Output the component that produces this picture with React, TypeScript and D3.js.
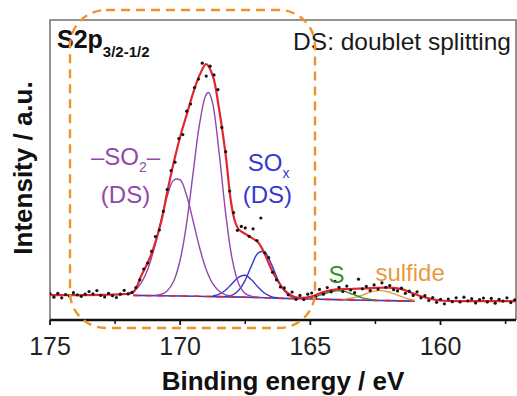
import React from 'react';
import * as d3 from 'd3';

const W = 517;
const H = 396;
const plot = { left: 50, right: 516, top: 20, bottom: 320 };

// axis
const xTicks = [175, 170, 165, 160];
const xMinorTicks = [172.5, 167.5, 162.5, 157.5];

// measured points (black dots), 0.15 eV apart starting at 175 eV
const scanStart = 175;
const scanStep = 0.15;
const counts = [
  8.8, 7.6, 8.9, 7.4, 8.5, 8.0, 9.1, 8.4, 7.9, 8.6,
  9.5, 8.7, 9.8, 8.2, 7.7, 8.9, 8.1, 7.5, 8.6, 9.9,
  8.7, 9.2, 10.8, 13.4, 17.0, 19.0, 22.9, 27.8, 30.0, 36.2,
  43.5, 49.8, 52.6, 60.5, 61.8, 69.6, 72.0, 77.5, 80.3, 85.6,
  81.3, 84.6, 81.7, 76.8, 64.2, 56.1, 43.0, 35.8, 29.9, 31.2,
  30.7, 27.9, 30.4, 26.5, 34.0, 22.4, 20.8, 15.9, 13.4, 11.0,
  10.7, 8.4, 9.3, 6.9, 8.2, 6.8, 8.6, 9.0, 7.7, 10.2,
  8.6, 10.8, 9.4, 12.9, 10.9, 9.5, 11.3, 10.0, 9.1, 13.6,
  10.4, 11.2, 9.8, 11.7, 10.3, 12.4, 10.9, 11.5, 10.1, 9.7,
  10.6, 8.9, 9.6, 8.2, 9.4, 7.4, 8.1, 6.5, 7.5, 5.9,
  6.9, 5.4, 7.0, 6.1, 7.4, 6.0, 7.6, 6.4, 7.1, 5.7,
  6.8, 7.3, 6.0, 7.2, 5.6, 6.9, 6.3, 7.4, 5.8, 6.7, 6.2,
];

// fitted curves, [binding energy eV, intensity a.u.]
const envelope: [number, number][] = [
  [175, 8.3], [174, 8.3], [173, 8.4], [172.2, 8.6], [171.8, 9.3], [171.5, 14.7],
  [171.15, 21], [170.75, 32], [170.5, 42.5], [170.25, 52.4], [170, 61.1],
  [169.75, 68.4], [169.5, 75.7], [169.25, 81.7], [169.0, 85.3], [168.75, 81.5],
  [168.5, 70], [168.25, 54.9], [168.05, 39.5], [167.9, 33], [167.75, 30.2],
  [167.5, 28.7], [167.25, 27.4], [167.0, 25.8], [166.75, 22], [166.5, 17],
  [166.25, 13], [166.0, 10], [165.75, 8.3], [165.5, 7.5], [165.0, 7.7], [164.5, 9.3],
  [164.0, 10.2], [163.5, 10.3], [163.0, 10.5], [162.5, 10.7], [162.0, 10.8],
  [161.5, 10.3], [161.0, 8.7], [160.5, 7.3], [160.0, 6.5], [159.0, 6.3], [157, 6.3],
];

const background: [number, number][] = [
  [171.8, 8.2], [170, 8.0], [169, 7.85], [168, 7.7], [167, 7.5], [166, 7.2],
  [165, 7.0], [164, 6.8], [163, 6.6], [162, 6.45], [161, 6.3],
];

const so2Main: [number, number][] = [
  [171.0, 8.2], [170.75, 8.5], [170.5, 9.7], [170.25, 12.9], [170.0, 20.0],
  [169.75, 32.3], [169.5, 49.2], [169.25, 65.6], [169.0, 75.2], [168.9, 75.8],
  [168.75, 72.1], [168.5, 55.5], [168.25, 35.4], [168.0, 20.2], [167.75, 12.0],
  [167.5, 8.8], [167.25, 7.9], [167.0, 7.5],
];

const so2Split: [number, number][] = [
  [172.0, 8.8], [171.75, 9.9], [171.5, 12.3], [171.25, 16.8], [171.0, 23.8],
  [170.75, 32.7], [170.5, 41.2], [170.25, 46.6], [170.0, 46.7], [169.75, 41.4],
  [169.5, 32.9], [169.25, 24], [169.0, 16.8], [168.75, 12.1], [168.5, 9.6],
  [168.25, 8.4], [168.0, 7.9],
];

const soxMain: [number, number][] = [
  [168.25, 7.9], [168.0, 8.3], [167.75, 9.9], [167.5, 13.3], [167.25, 18.3],
  [167.0, 22.4], [166.75, 22.6], [166.5, 18.7], [166.25, 13.5], [166.0, 9.7],
  [165.75, 7.9], [165.5, 7.3],
];

const soxSplit: [number, number][] = [
  [168.75, 8.0], [168.5, 8.6], [168.25, 10.0], [168.0, 12.2], [167.75, 14.3],
  [167.5, 14.9], [167.25, 13.3], [167.0, 10.9], [166.75, 8.9], [166.5, 7.8],
  [166.25, 7.4],
];

const sulfur: [number, number][] = [
  [165.25, 7.2], [165.0, 7.4], [164.75, 7.9], [164.5, 8.6], [164.25, 9.3],
  [164.0, 9.7], [163.75, 9.7], [163.5, 9.0], [163.25, 8.2], [163.0, 7.4],
  [162.75, 6.9], [162.5, 6.6],
];

const sulfide: [number, number][] = [
  [163.75, 6.9], [163.5, 7.2], [163.25, 7.6], [163.0, 8.3], [162.75, 9.1],
  [162.5, 9.7], [162.25, 9.8], [162.0, 9.4], [161.75, 8.6], [161.5, 7.8],
  [161.25, 7.0], [161.0, 6.6],
];

const PURPLE = '#9247ad';
const BLUE = '#3737d2';
const GREEN = '#2f8f35';
const ORANGE = '#e99a3e';
const RED = '#e2262c';
const FONT = 'Liberation Sans, Arial, sans-serif';

export default function App() {
  const x = d3.scaleLinear().domain([175, 157.1]).range([plot.left, plot.right]);
  const y = d3.scaleLinear().domain([0, 100]).range([plot.bottom, plot.top]);

  const curve = d3
    .line<[number, number]>()
    .x((d) => x(d[0]))
    .y((d) => y(d[1]))
    .curve(d3.curveCatmullRom.alpha(0.5));

  const points = counts.map((v, i) => [scanStart - i * scanStep, v] as [number, number]);

  return (
    <svg
      width={W}
      height={H}
      style={{ position: 'absolute', left: 0, top: 0, background: '#fff' }}
      fontFamily={FONT}
    >
      <defs>
        <clipPath id="plot-clip">
          <rect x={plot.left} y={plot.top} width={plot.right - plot.left} height={plot.bottom - plot.top} />
        </clipPath>
      </defs>

      {/* frame */}
      <path
        d={`M${plot.left},${plot.bottom}V${plot.top}H${plot.right}V${plot.bottom}`}
        fill="none"
        stroke="#707070"
        strokeWidth={1.5}
      />

      <g clipPath="url(#plot-clip)">
        <path d={curve(background) || ''} fill="none" stroke={BLUE} strokeWidth={1.6} />
        <path d={curve(background) || ''} fill="none" stroke={RED} strokeWidth={1.6} strokeDasharray="6 6" />
        <path d={curve(sulfide) || ''} fill="none" stroke={ORANGE} strokeWidth={1.4} />
        <path d={curve(sulfur) || ''} fill="none" stroke={GREEN} strokeWidth={1.4} />
        <path d={curve(soxSplit) || ''} fill="none" stroke={BLUE} strokeWidth={1.4} />
        <path d={curve(soxMain) || ''} fill="none" stroke={BLUE} strokeWidth={1.4} />
        <path d={curve(so2Split) || ''} fill="none" stroke={PURPLE} strokeWidth={1.4} />
        <path d={curve(so2Main) || ''} fill="none" stroke={PURPLE} strokeWidth={1.4} />
        <path d={curve(envelope) || ''} fill="none" stroke={RED} strokeWidth={2.2} />
        {points.map((p, i) => (
          <circle key={i} cx={x(p[0])} cy={y(p[1])} r={1.6} fill="#151515" />
        ))}
      </g>

      {/* bottom axis */}
      <line x1={plot.left} x2={plot.right} y1={plot.bottom} y2={plot.bottom} stroke="#111" strokeWidth={2.5} />
      {xTicks.map((t) => (
        <g key={t}>
          <line x1={x(t)} x2={x(t)} y1={plot.bottom} y2={plot.bottom + 5} stroke="#111" strokeWidth={1.8} />
          <text x={x(t)} y={355} textAnchor="middle" fontSize={25} fill="#222">
            {t}
          </text>
        </g>
      ))}
      {xMinorTicks.map((t) => (
        <line key={t} x1={x(t)} x2={x(t)} y1={plot.bottom} y2={plot.bottom + 4} stroke="#111" strokeWidth={1.5} />
      ))}
      <text x={283} y={390} textAnchor="middle" fontSize={26} fontWeight="bold" fill="#111">
        Binding energy / eV
      </text>
      <text
        transform="translate(32,168) rotate(-90)"
        textAnchor="middle"
        fontSize={26}
        fontWeight="bold"
        fill="#111"
      >
        Intensity / a.u.
      </text>

      {/* titles */}
      <text x={57} y={48} fontSize={25} fontWeight="bold" fill="#111">
        S2p
        <tspan fontSize={15} dy={9}>3/2-1/2</tspan>
      </text>
      <text x={511} y={50} textAnchor="end" fontSize={24.5} fill="#1a1a1a">
        DS: doublet splitting
      </text>

      {/* peak labels */}
      <text x={x(172.1)} y={y(51.7)} textAnchor="middle" fontSize={24} fill={PURPLE}>
        –SO<tspan fontSize={14} dy={7}>2</tspan><tspan dy={-7}>–</tspan>
      </text>
      <text x={x(172.1)} y={y(39)} textAnchor="middle" fontSize={24} fill={PURPLE}>
        (DS)
      </text>
      <text x={x(166.6)} y={y(49.7)} textAnchor="middle" fontSize={24} fill={BLUE}>
        SO<tspan fontSize={14} dy={7}>x</tspan>
      </text>
      <text x={x(166.65)} y={y(39)} textAnchor="middle" fontSize={24} fill={BLUE}>
        (DS)
      </text>
      <text x={x(164.3)} y={y(12.3)} fontSize={24} fill={GREEN}>
        S
      </text>
      <text x={x(162.5)} y={y(13)} fontSize={24} fill={ORANGE}>
        sulfide
      </text>

      {/* highlight box */}
      <rect
        x={70}
        y={10}
        width={245}
        height={318}
        rx={36}
        ry={36}
        fill="none"
        stroke="#f0912a"
        strokeWidth={2.4}
        strokeDasharray="9 6"
      />
    </svg>
  );
}
